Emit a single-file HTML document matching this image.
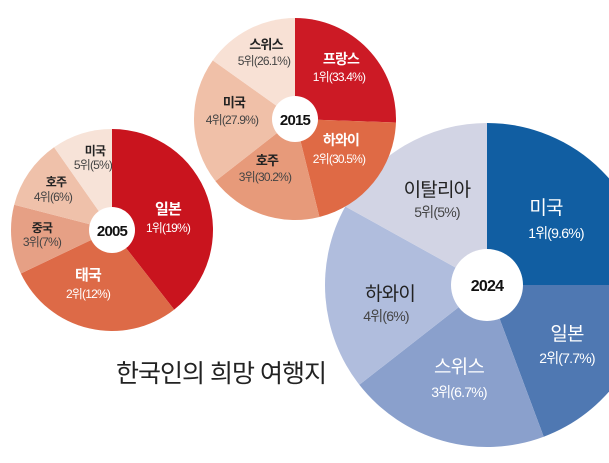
<!DOCTYPE html>
<html><head><meta charset="utf-8"><style>
html,body{margin:0;padding:0;background:#fff;}
svg{display:block;font-family:"Liberation Sans","Noto Sans CJK KR",sans-serif;}
</style></head><body>
<svg id="s" width="609" height="463" viewBox="0 0 609 463">
<g id="p"></g>
<g font-size="12" text-anchor="middle" letter-spacing="-0.8">
<!-- 2005 -->
<text x="95" y="155" fill="#222" font-weight="bold" font-size="12">미국</text>
<text x="93" y="169" fill="#444">5위(5%)</text>
<text x="56" y="186" fill="#222" font-weight="bold">호주</text>
<text x="53" y="201" fill="#444">4위(6%)</text>
<text x="42" y="232" fill="#222" font-weight="bold">중국</text>
<text x="42" y="246" fill="#444">3위(7%)</text>
<text x="88" y="280" fill="#fff" font-weight="bold" font-size="15">태국</text>
<text x="88" y="298" fill="#fff">2위(12%)</text>
<text x="168" y="214" fill="#fff" font-weight="bold" font-size="15">일본</text>
<text x="168" y="232" fill="#fff">1위(19%)</text>
<circle cx="112" cy="230" r="23" fill="#fff"/>
<text x="112" y="236" fill="#111" font-weight="bold" font-size="15">2005</text>
<!-- 2015 -->
<text x="266" y="49" fill="#222" font-weight="bold" font-size="13">스위스</text>
<text x="264" y="65" fill="#444">5위(26.1%)</text>
<text x="234" y="107" fill="#222" font-weight="bold" font-size="13">미국</text>
<text x="232" y="124" fill="#444">4위(27.9%)</text>
<text x="267" y="165" fill="#222" font-weight="bold" font-size="13">호주</text>
<text x="265" y="181" fill="#444">3위(30.2%)</text>
<text x="341" y="64" fill="#fff" font-weight="bold" font-size="14">프랑스</text>
<text x="339" y="81" fill="#fff">1위(33.4%)</text>
<text x="341" y="145" fill="#fff" font-weight="bold" font-size="14">하와이</text>
<text x="339" y="163" fill="#fff">2위(30.5%)</text>
<circle cx="295" cy="119" r="23" fill="#fff"/>
<text x="295" y="125" fill="#111" font-weight="bold" font-size="15">2015</text>
<!-- 2024 -->
<text x="437" y="196" fill="#222" font-size="19">이탈리아</text>
<text x="437" y="217" fill="#444" font-size="14">5위(5%)</text>
<text x="546" y="214" fill="#fff" font-size="19">미국</text>
<text x="556" y="238" fill="#fff" font-size="14">1위(9.6%)</text>
<text x="390" y="300" fill="#222" font-size="19">하와이</text>
<text x="386" y="321" fill="#444" font-size="14">4위(6%)</text>
<text x="459" y="373" fill="#fff" font-size="19">스위스</text>
<text x="459" y="397" fill="#fff" font-size="14">3위(6.7%)</text>
<text x="567" y="340" fill="#fff" font-size="19">일본</text>
<text x="567" y="363" fill="#fff" font-size="14">2위(7.7%)</text>
<circle cx="487" cy="285" r="36" fill="#fff"/>
<text x="487" y="291" fill="#111" font-weight="bold" font-size="16">2024</text>
<text x="221" y="382" fill="#222" font-size="25" letter-spacing="-1">한국인의 희망 여행지</text>
</g>
</svg>
<script>
function pie(cx,cy,r,bounds,cols){
 var g=document.getElementById('p'),ns='http://www.w3.org/2000/svg';
 for(var i=0;i<cols.length;i++){
  var a0=bounds[i]*Math.PI/180,a1=bounds[i+1]*Math.PI/180;
  var x0=cx+r*Math.sin(a0),y0=cy-r*Math.cos(a0),x1=cx+r*Math.sin(a1),y1=cy-r*Math.cos(a1);
  var la=(bounds[i+1]-bounds[i])>180?1:0;
  var p=document.createElementNS(ns,'path');
  p.setAttribute('d','M'+cx+','+cy+'L'+x0+','+y0+'A'+r+','+r+' 0 '+la+' 1 '+x1+','+y1+'Z');
  p.setAttribute('fill',cols[i]);g.appendChild(p);
 }
}
pie(487,285,162,[0,90,159.5,232,299,360],['#115ea2','#4f78b2','#8aa0cc','#b0bddd','#d2d4e4']);
pie(112,230,101,[0,142,244.5,284.5,325,360],['#c9141e','#dd6a47','#e6a085','#efc1aa','#f7e3d8']);
pie(295,119,101,[0,92,166,232,305.5,360],['#cc1a25','#df6a45','#e79a7a','#f0c0a8','#f8e1d5']);
</script>
</body></html>
